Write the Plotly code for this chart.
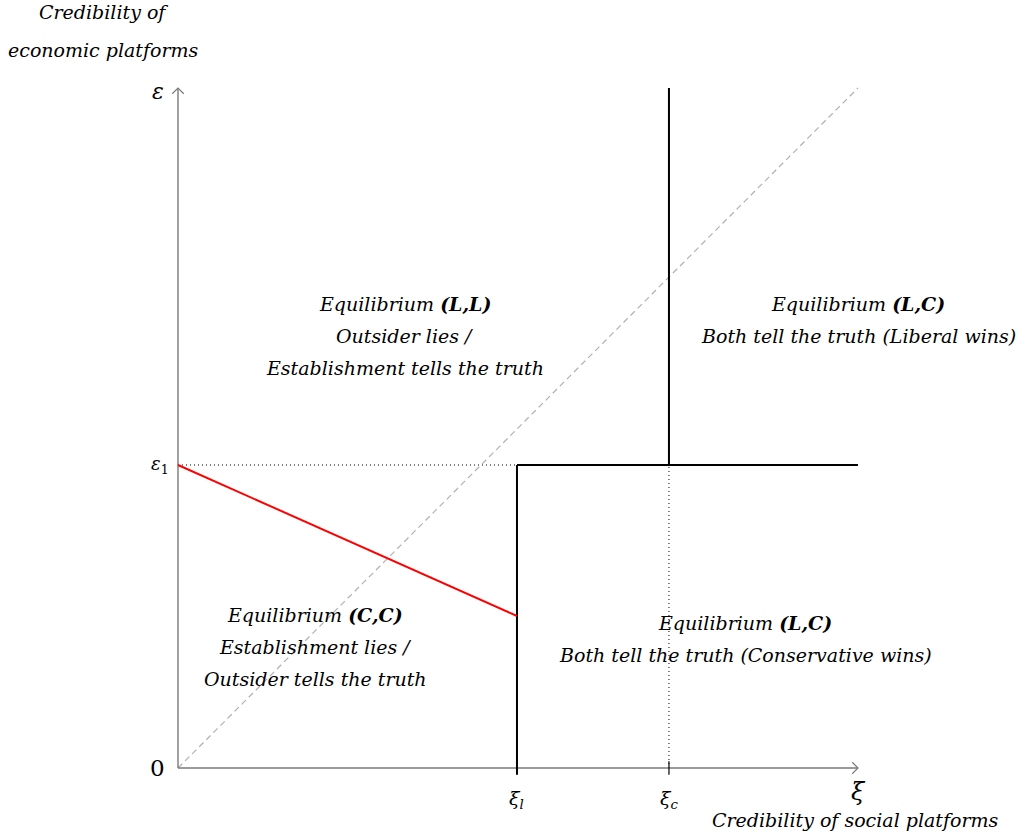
import plotly.graph_objects as go

# Threshold values on the two credibility axes
xi_l = 4.985        # social-platform threshold (Liberal)
xi_c = 7.22         # social-platform threshold (Conservative)
eps_1 = 4.456       # economic-platform threshold
red_end = 2.235     # boundary value of the (C,C) region at xi_l
axis_max = 10.0

# Region captions: (x, y of first line, lines)
regions = [
    (3.332, 6.82, ["<i>Equilibrium <b>(L,L)</b></i>", "<i>Outsider lies /</i>", "<i>Establishment tells the truth</i>"]),
    (10.0, 6.82, ["<i>Equilibrium <b>(L,C)</b></i>", "<i>Both tell the truth (Liberal wins)</i>"]),
    (2.015, 2.25, ["<i>Equilibrium <b>(C,C)</b></i>", "<i>Establishment lies /</i>", "<i>Outsider tells the truth</i>"]),
    (8.34, 2.13, ["<i>Equilibrium <b>(L,C)</b></i>", "<i>Both tell the truth (Conservative wins)</i>"]),
]

PX = 68.0           # pixels per unit
W, H = 1027, 838
X0, Y0 = 178, 768   # origin in page pixels

FONT = "DejaVu Serif"
AX_COL = "#7a7a7a"

fig = go.Figure()

def line(xs, ys, color, width, dash="solid"):
    fig.add_trace(go.Scatter(x=xs, y=ys, mode="lines", hoverinfo="skip",
                             line=dict(color=color, width=width, dash=dash),
                             showlegend=False))

# 45-degree reference line
line([0, axis_max], [0, axis_max], "#b0b0b0", 1.2, "6px,4px")

# Dotted guides
line([0, xi_l], [eps_1, eps_1], "#000000", 1, "1px,3px")
line([xi_c, xi_c], [0, eps_1], "#000000", 1, "1px,3px")

# Axes
line([0, axis_max], [0, 0], AX_COL, 1.4)
line([0, 0], [0, axis_max], AX_COL, 1.4)
a = 0.085
line([axis_max - a, axis_max, axis_max - a], [a, 0, -a], AX_COL, 1.2)
line([-a, 0, a], [axis_max - a, axis_max, axis_max - a], AX_COL, 1.2)

# Tick marks
t = 0.1
line([xi_c, xi_c], [-t, t], "#000000", 1.2)

# Region boundaries
line([xi_l, xi_l], [-t, eps_1], "#000000", 2)
line([xi_l, axis_max], [eps_1, eps_1], "#000000", 2)
line([xi_c, xi_c], [eps_1, axis_max], "#000000", 2)
line([0, xi_l], [eps_1, red_end], "#ff0000", 2)

ann = []

def text(x, y, s, size, xanchor="center", yanchor="middle"):
    ann.append(dict(x=x, y=y, xref="x", yref="y", text=s, showarrow=False,
                    xanchor=xanchor, yanchor=yanchor,
                    font=dict(family=FONT, size=size, color="#000000")))

line_gap = 32 / PX
for cx, cy, lines in regions:
    for i, s in enumerate(lines):
        text(cx, cy - i * line_gap, s, 19)

# Axis labels
text(-0.3, axis_max - 0.05, "<i>ε</i>", 22)
text(-0.26, eps_1, "<i>ε</i><sub>1</sub>", 18)
text(-0.3, 0, "0", 23)
text(xi_l, -0.47, "<i>ξ</i><sub><i>l</i></sub>", 19)
text(xi_c, -0.47, "<i>ξ</i><sub><i>c</i></sub>", 19)
text(axis_max, -0.35, "<i>ξ</i>", 24)
text(9.97, -0.765, "<i>Credibility of social platforms</i>", 19)
text(-1.1, 11.12, "<i>Credibility of</i>", 19)
text(-1.1, 10.56, "<i>economic platforms</i>", 19)

fig.update_layout(
    width=W, height=H,
    margin=dict(l=0, r=0, t=0, b=0),
    paper_bgcolor="white", plot_bgcolor="white",
    annotations=ann,
    xaxis=dict(range=[-X0 / PX, (W - X0) / PX], visible=False, fixedrange=True),
    yaxis=dict(range=[-(H - Y0) / PX, Y0 / PX], visible=False, fixedrange=True),
)

fig.write_html("out.html")
